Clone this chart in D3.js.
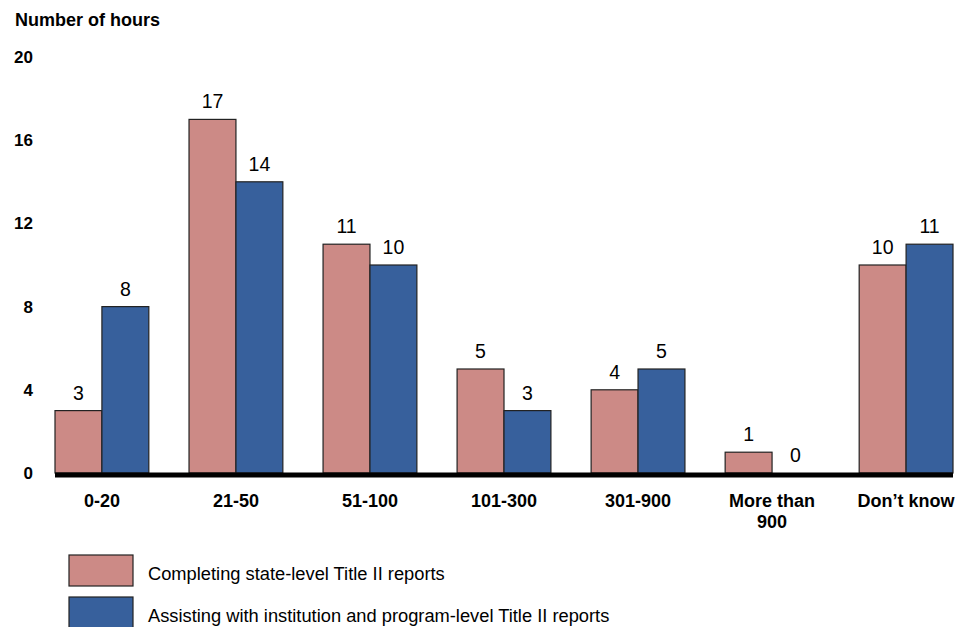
<!DOCTYPE html>
<html>
<head>
<meta charset="utf-8">
<script src="https://cdn.jsdelivr.net/npm/d3@7"></script>
<style>
  html, body { margin: 0; padding: 0; background: #fff; }
  svg { display: block; font-family: "Liberation Sans", Arial, sans-serif; }
</style>
</head>
<body>
<svg id="chart" width="972" height="627"></svg>
<script>
// Hours spent on Title II reporting, by range of hours
const categories = ["0-20", "21-50", "51-100", "101-300", "301-900", "More than|900", "Don’t know"];
const stateLevel = [3, 17, 11, 5, 4, 1, 10];
const institutionLevel = [8, 14, 10, 3, 5, 0, 11];
const seriesNames = [
  "Completing state-level Title II reports",
  "Assisting with institution and program-level Title II reports"
];
const yTicks = [0, 4, 8, 12, 16, 20];
const colors = ["#cc8a86", "#37609c"];

const svg = d3.select("#chart");

const x = d3.scaleBand().domain(categories).range([55, 953]).paddingInner(0.3).paddingOuter(0);
const xInner = d3.scaleBand().domain([0, 1]).range([0, x.bandwidth()]);
const y = d3.scaleLinear().domain([0, 20]).range([473, 57]);

// Y axis title
svg.append("text")
  .attr("x", 15).attr("y", 26)
  .attr("font-size", 18).attr("font-weight", "bold")
  .text("Number of hours");

// Y tick labels
const yAxis = d3.axisLeft(y).tickValues(yTicks).tickSize(0).tickPadding(0);
const yg = svg.append("g").attr("transform", "translate(33,0)").call(yAxis);
yg.select(".domain").remove();
yg.selectAll("text")
  .attr("font-size", 17).attr("font-weight", "bold")
  .attr("font-family", "Liberation Sans, Arial, sans-serif")
  .attr("fill", "#000");

// Bars
const series = [stateLevel, institutionLevel];
series.forEach((vals, si) => {
  const g = svg.append("g");
  g.selectAll("rect")
    .data(categories.map((c, i) => ({ c, v: vals[i] })))
    .join("rect")
    .attr("x", d => x(d.c) + xInner(si))
    .attr("width", xInner.bandwidth())
    .attr("y", d => y(d.v))
    .attr("height", d => y(0) - y(d.v))
    .attr("fill", colors[si])
    .attr("stroke", d => d.v > 0 ? "#222" : "none")
    .attr("stroke-width", 1.2);

  g.selectAll("text")
    .data(categories.map((c, i) => ({ c, v: vals[i] })))
    .join("text")
    .attr("x", d => x(d.c) + xInner(si) + xInner.bandwidth() / 2)
    .attr("y", d => y(d.v) - 11)
    .attr("text-anchor", "middle")
    .attr("font-size", 19.5)
    .text(d => d.v);
});

// Baseline
svg.append("line")
  .attr("x1", x.range()[0]).attr("x2", x.range()[1])
  .attr("y1", y(0) + 2).attr("y2", y(0) + 2)
  .attr("stroke", "#000").attr("stroke-width", 5);

// Category labels
const xg = svg.append("g");
categories.forEach(c => {
  const lines = c.split("|");
  const t = xg.append("text")
    .attr("x", x(c) + x.bandwidth() / 2)
    .attr("y", 507)
    .attr("text-anchor", "middle")
    .attr("font-size", 18).attr("font-weight", "bold");
  lines.forEach((ln, i) => {
    t.append("tspan").attr("x", x(c) + x.bandwidth() / 2).attr("dy", i === 0 ? 0 : 21).text(ln);
  });
});

// Legend
const legend = svg.append("g");
seriesNames.forEach((name, i) => {
  const ly = 555 + i * 42;
  legend.append("rect")
    .attr("x", 69).attr("y", ly).attr("width", 64).attr("height", 31)
    .attr("fill", colors[i]).attr("stroke", "#222").attr("stroke-width", 1.2);
  legend.append("text")
    .attr("x", 148).attr("y", ly + 25)
    .attr("font-size", 18.3)
    .text(name);
});
</script>
</body>
</html>
